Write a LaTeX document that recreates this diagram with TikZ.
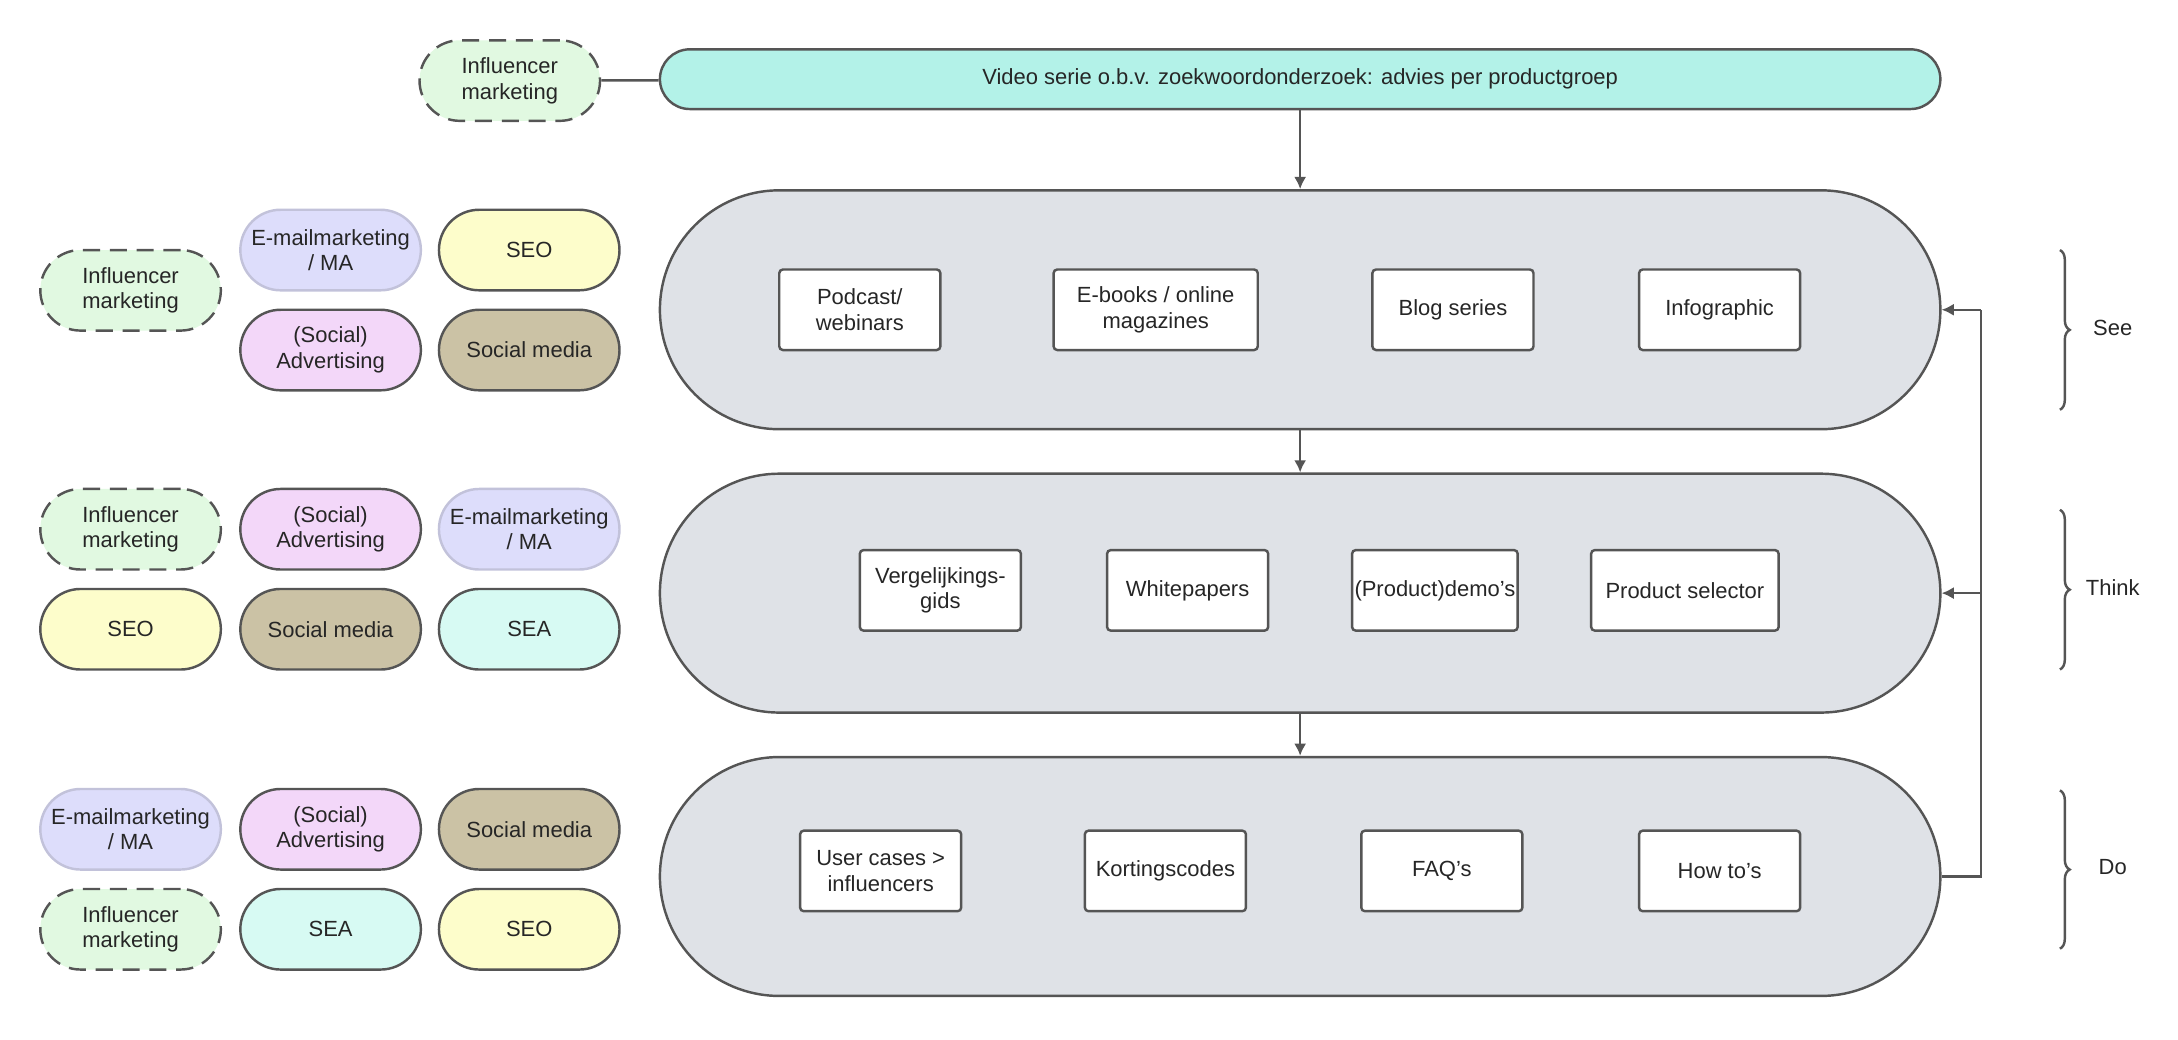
\documentclass[tikz,border=0pt]{standalone}
\usepackage{fontspec}
\setmainfont{Liberation Sans}
\usetikzlibrary{decorations.pathreplacing}
\usetikzlibrary{arrows.meta}
\definecolor{topteal}{HTML}{B3F2E8}
\definecolor{stagegray}{HTML}{DFE2E7}
\definecolor{inflgreen}{HTML}{E1F9E1}
\definecolor{maviolet}{HTML}{DDDDFB}
\definecolor{seoyellow}{HTML}{FDFDCB}
\definecolor{socbrown}{HTML}{CBC2A5}
\definecolor{advpink}{HTML}{F3D7F9}
\definecolor{seateal}{HTML}{D7FAF3}
\definecolor{edge}{HTML}{555555}
\tikzset{
  every node/.style={font=\fontsize{9}{10.5}\selectfont, text=black!85},
  pill/.style={draw=edge, line width=1pt, rounded corners=0.58cm, minimum width=2.6cm,
    minimum height=1.16cm, align=center, inner sep=1pt},
  infl/.style={pill, fill=inflgreen, dashed, dash pattern=on 7pt off 4pt},
  ma/.style={pill, fill=maviolet, draw=maviolet!80!edge},
  seo/.style={pill, fill=seoyellow},
  soc/.style={pill, fill=socbrown},
  adv/.style={pill, fill=advpink},
  sea/.style={pill, fill=seateal},
  stage/.style={draw=edge, line width=1pt, fill=stagegray, rounded corners=1.72cm,
    minimum width=18.44cm, minimum height=3.44cm},
  item/.style={draw=edge, line width=1pt, fill=white, rounded corners=1.5pt,
    minimum width=2.32cm, minimum height=1.16cm, align=center, inner sep=1pt},
  arr/.style={draw=edge, line width=1pt, -{Latex[length=5pt,width=5pt]}},
  brc/.style={draw=edge, line width=1pt, decorate, decoration={brace, amplitude=0.14cm}}
}
\begin{document}
\begin{tikzpicture}[x=0.02cm, y=-0.02cm]
\useasboundingbox (0,0) rectangle (1568,748);
% top
\node[pill, fill=topteal, minimum width=18.44cm, minimum height=0.86cm, rounded corners=0.43cm] (video) at (936,57) {Video serie o.b.v. zoekwoordonderzoek: advies per productgroep};
\node[infl] (inflTop) at (367,58) {Influencer\\marketing};
\draw[draw=edge, line width=1pt] (inflTop) -- (video);
% stages
\node[stage] (see) at (936,223) {};
\node[stage] (think) at (936,427) {};
\node[stage] (do) at (936,631) {};
\draw[arr] (video) -- (see);
\draw[arr] (see) -- (think);
\draw[arr] (think) -- (do);
% see items
\node[item] (podcast) at (619,223) {Podcast/\\webinars};
\node[item, minimum width=2.94cm] (ebooks) at (832,223) {E-books / online\\magazines};
\node[item] (blog) at (1046,223) {Blog series};
\node[item] (info) at (1238,223) {Infographic};
% think items
\node[item] (verg) at (677,425) {Vergelijkings-\\gids};
\node[item] (white) at (855,425) {Whitepapers};
\node[item] (demo) at (1033,425) {(Product)demo's};
\node[item, minimum width=2.7cm] (selector) at (1213,425) {Product selector};
% do items
\node[item] (cases) at (634,627) {User cases >\\influencers};
\node[item] (korting) at (839,627) {Kortingscodes};
\node[item] (faq) at (1038,627) {FAQ's};
\node[item] (howto) at (1238,627) {How to's};
% feedback
\coordinate (fbDo) at (1426,631);
\coordinate (fbSee) at (1426,223);
\coordinate (fbThink) at (1426,427);
\draw[draw=edge, line width=1pt] (do.east) -- (fbDo) -- (fbSee);
\draw[arr] (fbSee) -- (see.east);
\draw[arr] (fbThink) -- (think.east);
% braces
\draw[brc] (1483,180) -- (1483,295);
\draw[brc] (1483,367) -- (1483,482);
\draw[brc] (1483,569) -- (1483,683);
\node (lSee) at (1521,236) {See};
\node (lThink) at (1521,423) {Think};
\node (lDo) at (1521,624) {Do};
% channels see
\node[infl] (s1) at (94,209) {Influencer\\marketing};
\node[ma] (s2) at (238,180) {E-mailmarketing\\/ MA};
\node[seo] (s3) at (381,180) {SEO};
\node[adv] (s4) at (238,252) {(Social)\\Advertising};
\node[soc] (s5) at (381,252) {Social media};
% channels think
\node[infl] (t1) at (94,381) {Influencer\\marketing};
\node[adv] (t2) at (238,381) {(Social)\\Advertising};
\node[ma] (t3) at (381,381) {E-mailmarketing\\/ MA};
\node[seo] (t4) at (94,453) {SEO};
\node[soc] (t5) at (238,453) {Social media};
\node[sea] (t6) at (381,453) {SEA};
% channels do
\node[ma] (d1) at (94,597) {E-mailmarketing\\/ MA};
\node[adv] (d2) at (238,597) {(Social)\\Advertising};
\node[soc] (d3) at (381,597) {Social media};
\node[infl] (d4) at (94,669) {Influencer\\marketing};
\node[sea] (d5) at (238,669) {SEA};
\node[seo] (d6) at (381,669) {SEO};
\end{tikzpicture}
\end{document}
